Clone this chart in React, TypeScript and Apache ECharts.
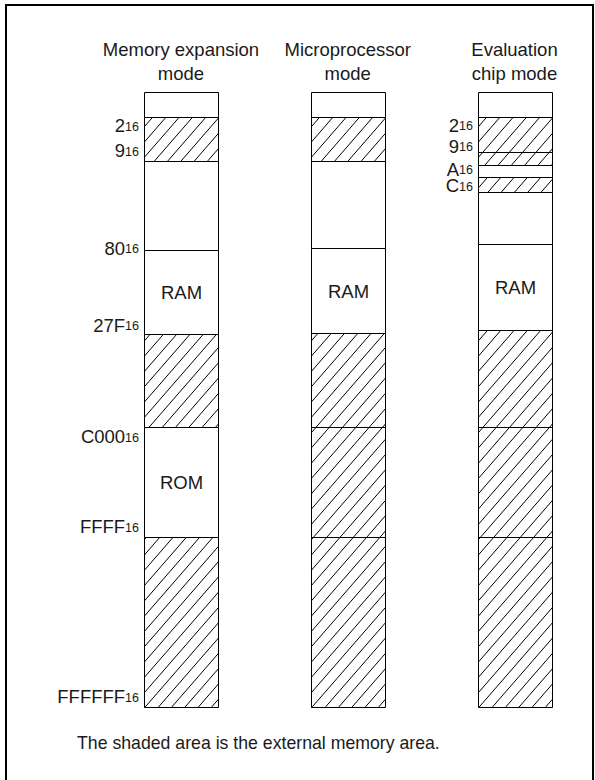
import React, { useEffect, useRef } from 'react';
import * as echarts from 'echarts';

// Mode titles (x categories)
const modes = ['Memory expansion\nmode', 'Microprocessor\nmode', 'Evaluation\nchip mode'];

// Schematic boundaries of each memory map (0 = top of map, 615 = FFFFFF16)
const expansionBounds = [0, 25, 69, 158, 242, 335, 445, 615];
const expansionHatch = [false, true, false, false, true, false, true];
const expansionNames = ['', '', '', 'RAM', '', 'ROM', ''];

const microBounds = [0, 25, 69, 156, 241, 335, 445, 615];
const microHatch = [false, true, false, false, true, true, true];
const microNames = ['', '', '', 'RAM', '', '', ''];

const evalBounds = [0, 25, 60, 73, 85, 100, 152, 238, 335, 445, 615];
const evalHatch = [false, true, true, false, true, false, false, true, true, true];
const evalNames = ['', '', '', '', '', '', 'RAM', '', '', ''];

// Address labels (hex, subscript 16) and their schematic positions
const expansionAddr = ['2', '9', '80', '27F', 'C000', 'FFFF', 'FFFFFF'];
const expansionAddrPos = [33.5, 58.5, 156, 233, 344.5, 434.5, 604.5];
const evalAddr = ['2', '9', 'A', 'C'];
const evalAddrPos = [33, 54, 77, 93.5];

const caption = 'The shaded area is the external memory area.';

const FONT = '"Liberation Sans", Arial, Helvetica, sans-serif';
const TEXT_COLOR = '#1a1a1a';
const COL_W = 74 / 166.75; // column width in x-axis units
const HATCH_SLOPE = 1.15;
const HATCH_STEP = 13.3;

type Seg = { col: number; s: number; e: number; h: boolean; name: string };

function buildSegs(col: number, bounds: number[], hatch: boolean[], names: string[]): Seg[] {
  const out: Seg[] = [];
  for (let i = 0; i < bounds.length - 1; i++) {
    out.push({ col, s: bounds[i], e: bounds[i + 1], h: hatch[i], name: names[i] });
  }
  return out;
}

const segs: Seg[] = [
  ...buildSegs(0, expansionBounds, expansionHatch, expansionNames),
  ...buildSegs(1, microBounds, microHatch, microNames),
  ...buildSegs(2, evalBounds, evalHatch, evalNames),
];

const addrItems = [
  ...expansionAddr.map((t, i) => ({ name: t, value: [0, expansionAddrPos[i]] })),
  ...evalAddr.map((t, i) => ({ name: t, value: [2, evalAddrPos[i]] })),
];

export default function App() {
  const ref = useRef<HTMLDivElement>(null);
  useEffect(() => {
    if (!ref.current) return;
    const chart = echarts.init(ref.current, null, { renderer: 'svg' });
    const option: any = {
      animation: false,
      grid: { left: 181, top: 92, width: 333.5, height: 615 },
      xAxis: {
        type: 'value',
        min: 0,
        max: 2,
        interval: 1,
        position: 'top',
        axisLine: { show: false },
        axisTick: { show: false },
        splitLine: { show: false },
        axisLabel: {
          showMinLabel: true,
          showMaxLabel: true,
          formatter: (v: number) => modes[Math.round(v)] || '',
          fontSize: 18.5,
          lineHeight: 24,
          color: TEXT_COLOR,
          fontFamily: FONT,
          margin: 7,
        },
      },
      yAxis: { type: 'value', min: 0, max: 615, inverse: true, show: false },
      series: [
        {
          type: 'custom',
          silent: true,
          data: segs.map((s) => ({ name: s.name, value: [s.col, s.s, s.e, s.h ? 1 : 0] })),
          renderItem: (params: any, api: any) => {
            const seg = segs[params.dataIndex];
            const col = api.value(0);
            const pTop = api.coord([col, api.value(1)]);
            const pBot = api.coord([col, api.value(2)]);
            const pOrigin = api.coord([col, 0]);
            const half = api.size([COL_W, 0])[0] / 2;
            const x0 = Math.round(pTop[0] - half) + 0.5;
            const x1 = Math.round(pTop[0] + half) + 0.5;
            const y0 = Math.round(pTop[1]) + 0.5;
            const y1 = Math.round(pBot[1]) + 0.5;
            const children: any[] = [
              { type: 'rect', shape: { x: x0, y: y0, width: x1 - x0, height: y1 - y0 }, style: { fill: '#fff', stroke: null } },
            ];
            if (api.value(3)) {
              const k = HATCH_SLOPE;
              const w = x1 - x0;
              const yRef = pOrigin[1];
              const v0 = y0 - yRef;
              const v1 = y1 - yRef;
              const step = k * HATCH_STEP;
              const cMin = v0;
              const cMax = k * w + v1;
              const nStart = Math.floor(cMin / step) - 1;
              for (let n = nStart; n * step <= cMax + step; n++) {
                const c = n * step + 4;
                const ua = Math.max(0, (c - v1) / k);
                const ub = Math.min(w, (c - v0) / k);
                if (ub - ua > 0.3) {
                  children.push({
                    type: 'line',
                    shape: { x1: x0 + ua, y1: yRef + c - k * ua, x2: x0 + ub, y2: yRef + c - k * ub },
                    style: { stroke: '#000', lineWidth: 1 },
                  });
                }
              }
            }
            children.push({
              type: 'rect',
              shape: { x: x0, y: y0, width: x1 - x0, height: y1 - y0 },
              style: { fill: 'none', stroke: '#000', lineWidth: 1 },
            });
            if (seg.name) {
              children.push({
                type: 'text',
                x: (x0 + x1) / 2,
                y: (y0 + y1) / 2,
                style: {
                  text: seg.name,
                  fontSize: 18.5,
                  fontFamily: FONT,
                  fill: TEXT_COLOR,
                  align: 'center',
                  verticalAlign: 'middle',
                },
              });
            }
            return { type: 'group', children };
          },
        },
        {
          type: 'custom',
          silent: true,
          data: addrItems,
          renderItem: (params: any, api: any) => {
            const item = addrItems[params.dataIndex];
            const p = api.coord([api.value(0), api.value(1)]);
            const half = api.size([COL_W, 0])[0] / 2;
            return {
              type: 'text',
              x: Math.round(p[0] - half) - 5,
              y: p[1],
              style: {
                text: `{a|${item.name}}{b|16}`,
                align: 'right',
                verticalAlign: 'middle',
                rich: {
                  a: { fontSize: 18.5, lineHeight: 15, fontFamily: FONT, fill: TEXT_COLOR, color: TEXT_COLOR },
                  b: { fontSize: 12.5, lineHeight: 9, fontFamily: FONT, fill: TEXT_COLOR, color: TEXT_COLOR, verticalAlign: 'bottom' },
                },
              },
            };
          },
        },
      ],
      graphic: [
        {
          type: 'rect',
          silent: true,
          shape: { x: 6, y: 5, width: 587, height: 800 },
          style: { fill: 'none', stroke: '#000', lineWidth: 2 },
        },
        {
          type: 'text',
          silent: true,
          x: 77,
          y: 743,
          style: {
            text: caption,
            fontSize: 17.7,
            fontFamily: FONT,
            fill: TEXT_COLOR,
            align: 'left',
            verticalAlign: 'middle',
          },
        },
      ],
    };
    chart.setOption(option);
    return () => chart.dispose();
  }, []);
  return (
    <div
      ref={ref}
      style={{ position: 'absolute', left: 0, top: 0, width: 595, height: 780, background: '#fff' }}
    />
  );
}
